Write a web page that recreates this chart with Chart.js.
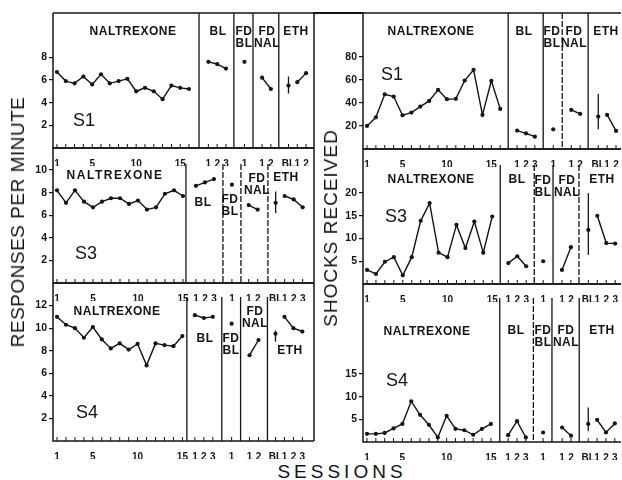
<!doctype html>
<html lang="en">
<head>
<meta charset="UTF-8">
<title>Naltrexone sessions</title>
<script src="https://cdn.jsdelivr.net/npm/chart.js@4.4.1/dist/chart.umd.min.js"></script>
<style>
  body { margin: 0; background: #fff; }
  #fig { position: relative; width: 622px; height: 480px; overflow: hidden; font-family: 'Liberation Sans', Arial, sans-serif; color: #141414; }
  #fig canvas { position: absolute; }
  .lbl { position: absolute; transform: translate(-50%, -50%); font-weight: bold; font-size: 12px; letter-spacing: 0.5px; line-height: 12px; text-align: center; white-space: nowrap; }
  .subj { position: absolute; transform: translate(-50%, -50%); font-size: 18px; white-space: nowrap; }
  .axt { position: absolute; font-size: 19px; white-space: nowrap; transform: translate(-50%, -50%) rotate(-90deg); }
  .axh { position: absolute; font-size: 19px; white-space: nowrap; transform: translate(-50%, -50%); letter-spacing: 4px; }
  .rule { position: absolute; background: #141414; }
</style>
</head>
<body>
<div id="fig"></div>
<script>
// Data-----
// responses per minute
const s1RespNal = [6.7, 5.9, 5.7, 6.3, 5.6, 6.5, 5.7, 5.9, 6.1, 5.0, 5.3, 5.0, 4.3, 5.5, 5.3, 5.2];
const s1RespBL = [7.6, 7.4, 7.0];
const s1RespFdBL = [7.6];
const s1RespFdNal = [6.2, 5.2];
const s1RespEthBL = [5.5, 4.8, 6.3]; // mean, low, high
const s1RespEth = [5.8, 6.6];

const s3RespNal = [8.2, 7.1, 8.2, 7.2, 6.7, 7.2, 7.5, 7.5, 7.0, 7.3, 6.5, 6.7, 7.9, 8.2, 7.7];
const s3RespBL = [8.6, 8.9, 9.2];
const s3RespFdBL = [8.7];
const s3RespFdNal = [6.9, 6.5];
const s3RespEthBL = [7.1, 6.2, 8.1];
const s3RespEth = [7.7, 7.4, 6.7];

const s4RespNal = [11.0, 10.3, 10.0, 9.15, 10.1, 9.0, 8.2, 8.65, 8.1, 8.6, 6.7, 8.65, 8.5, 8.4, 9.3];
const s4RespBL = [11.15, 10.9, 11.0];
const s4RespFdBL = [10.4];
const s4RespFdNal = [7.6, 8.95];
const s4RespEthBL = [9.5, 8.8, 9.8];
const s4RespEth = [11.0, 10.0, 9.7];

// shocks received
const s1ShockNal = [20, 27.5, 47.5, 45.5, 29.3, 31.6, 36.8, 41.7, 51.3, 43.2, 43.5, 59.4, 68.7, 29.6, 59.1, 34.8];
const s1ShockBL = [16, 13.6, 10.7];
const s1ShockFdBL = [17.1];
const s1ShockFdNal = [33.9, 30.4];
const s1ShockEthBL = [28.1, 17.1, 47.8];
const s1ShockEth = [29.6, 15.7];

const s3ShockNal = [3.1, 2.2, 4.9, 5.9, 1.9, 5.9, 13.9, 17.8, 6.9, 5.9, 13, 7.9, 13.75, 6.9, 14.85];
const s3ShockBL = [4.6, 6.1, 3.9];
const s3ShockFdBL = [5.0];
const s3ShockFdNal = [3.1, 8.1];
const s3ShockEthBL = [11.9, 6.4, 20];
const s3ShockEth = [15, 9, 8.9];

const s4ShockNal = [1.8, 1.8, 2, 3, 4, 9, 6, 3.8, 1, 5.8, 2.9, 2.6, 1.6, 2.9, 4];
const s4ShockBL = [1.5, 4.6, 1.0];
const s4ShockFdBL = [2.1];
const s4ShockFdNal = [3.2, 1.4];
const s4ShockEthBL = [4.0, 2.4, 7.6];
const s4ShockEth = [4.9, 2.1, 4.1];

// tick labels
const nalTickLabels = [1, 5, 10, 15];
const blTickLabels = ['1', '2', '3'];
const fdBlTickLabels = ['1'];
const fdNalTickLabels = ['1', '2'];
const respTicksS1 = [2, 4, 6, 8];
const respTicksS3 = [2, 4, 6, 8, 10];
const respTicksS4 = [2, 4, 6, 8, 10, 12];
const shockTicksS1 = [20, 40, 60, 80];
const shockTicksS3 = [5, 10, 15, 20];
const shockTicksS4 = [5, 10, 15];
// Data-----

const INK = '#141414';
const TICKFONT = "'Liberation Sans Narrow', 'Liberation Sans', Arial, sans-serif";
const fig = document.getElementById('fig');

// Layout-----
const panels = [
  { box: [53, 13, 314, 148], xr: [0.55, 30.2], ymax: 11.9, yticks: respTicksS1,
    d: [s1RespNal, s1RespBL, s1RespFdBL, s1RespFdNal, s1RespEthBL, s1RespEth],
    starts: [18.2, 22.3, 24.3, 27.3], dividers: [17.14, 21.1, 23.27, 26.2], dash: [0, 0, 0, 0], divTop: 0, right: true,
    labels: [['NALTREXONE', 133, 31], ['BL', 218, 31], ['FD<br>BL', 244, 37], ['FD<br>NAL', 267, 37], ['ETH', 296, 31]],
    subj: ['S1', 84, 120] },
  { box: [53, 148, 314, 283], xr: [0.556, 29.56], ymax: 11.95, yticks: respTicksS3,
    d: [s3RespNal, s3RespBL, s3RespFdBL, s3RespFdNal, s3RespEthBL, s3RespEth],
    starts: [16.44, 20.44, 22.3, 25.3], dividers: [15.33, 19.44, 21.44, 24.44], dash: [0, 1, 1, 1], divTop: 16, right: true,
    labels: [['NALTREXONE', 115, 175, 1.5], ['BL', 203, 202], ['FD<br>BL', 230, 205], ['FD<br>NAL', 257, 184], ['ETH', 286, 177]],
    subj: ['S3', 86, 253] },
  { box: [53, 283, 314, 441], xr: [0.55, 29.7], ymax: 14.0, yticks: respTicksS4,
    d: [s4RespNal, s4RespBL, s4RespFdBL, s4RespFdNal, s4RespEthBL, s4RespEth],
    starts: [16.4, 20.5, 22.5, 25.4], dividers: [15.5, 19.4, 21.5, 24.5], dash: [0, 0, 0, 0], divTop: 14, right: true,
    labels: [['NALTREXONE', 117, 311], ['BL', 205, 338], ['FD<br>BL', 231, 344], ['FD<br>NAL', 255, 317], ['ETH', 290, 350]],
    subj: ['S4', 87, 412] },
  { box: [363, 13, 621, 148.5], xr: [0.55, 29.6], ymax: 118, yticks: shockTicksS1,
    d: [s1ShockNal, s1ShockBL, s1ShockFdBL, s1ShockFdNal, s1ShockEthBL, s1ShockEth],
    starts: [17.9, 21.97, 24.0, 27.04], dividers: [16.9, 20.84, 22.98, 25.9], dash: [0, 0, 1, 0], divTop: 0, right: false,
    labels: [['NALTREXONE', 431, 31], ['BL', 524, 31], ['FD<br>BL', 552, 37], ['FD<br>NAL', 574, 37], ['ETH', 606, 31]],
    subj: ['S1', 392, 74] },
  { box: [363, 148.5, 621, 283.5], xr: [0.55, 29.4], ymax: 29.7, yticks: shockTicksS3,
    d: [s3ShockNal, s3ShockBL, s3ShockFdBL, s3ShockFdNal, s3ShockEthBL, s3ShockEth],
    starts: [16.8, 20.7, 22.8, 25.75], dividers: [15.9, 19.7, 21.8, 24.7], dash: [0, 1, 0, 1], divTop: 16, right: false,
    labels: [['NALTREXONE', 431, 179], ['BL', 517, 179], ['FD<br>BL', 543, 186], ['FD<br>NAL', 567, 186], ['ETH', 602, 179]],
    subj: ['S3', 396, 216] },
  { box: [363, 283.5, 621, 441], xr: [0.55, 29.7], ymax: 34.9, yticks: shockTicksS4,
    d: [s4ShockNal, s4ShockBL, s4ShockFdBL, s4ShockFdNal, s4ShockEthBL, s4ShockEth],
    starts: [16.95, 20.9, 23.05, 26.0], dividers: [16.0, 19.8, 21.9, 24.98], dash: [0, 1, 0, 0], divTop: 14, right: false,
    labels: [['NALTREXONE', 427, 331], ['BL', 516, 330], ['FD<br>BL', 543, 336], ['FD<br>NAL', 566, 336], ['ETH', 602, 330]],
    subj: ['S4', 397, 380] }
];
// Layout-----

function series(x0, ys) {
  return {
    data: ys.map((v, i) => ({ x: x0 + i, y: v })),
    borderColor: INK, backgroundColor: INK, borderWidth: 1.4,
    pointRadius: 2.1, pointBorderWidth: 0, pointHoverRadius: 0
  };
}

function buildPanel(p) {
  const padL = 34, padR = 4, padT = 10, padB = 18;
  const [nal, bl, fdbl, fdnal, ethBL, eth] = p.d;
  const [sBL, sFdBL, sFdNal, sEth] = p.starts;
  const w = Math.round(p.box[2] - p.box[0] + padL + padR);
  const h = Math.round(p.box[3] - p.box[1] + padT + padB);
  const cv = document.createElement('canvas');
  cv.width = w; cv.height = h;
  cv.style.width = w + 'px'; cv.style.height = h + 'px';
  cv.style.left = (p.box[0] - padL) + 'px';
  cv.style.top = (p.box[1] - padT) + 'px';
  fig.appendChild(cv);

  const ethLabels = ['BL'].concat(eth.map((v, i) => String(i + 1)));
  // x tick positions + labels
  const tickPos = [], tickTxt = [];
  nalTickLabels.forEach(n => { tickPos.push(n); tickTxt.push(String(n)); });
  blTickLabels.forEach((t, i) => { tickPos.push(sBL + i); tickTxt.push(t); });
  fdBlTickLabels.forEach((t, i) => { tickPos.push(sFdBL + i); tickTxt.push(t); });
  fdNalTickLabels.forEach((t, i) => { tickPos.push(sFdNal + i); tickTxt.push(t); });
  ethLabels.forEach((t, i) => { tickPos.push(sEth + i); tickTxt.push(t); });
  // every session gets an inside tick mark
  const sessions = nal.map((v, i) => 1 + i)
    .concat(bl.map((v, i) => sBL + i), fdbl.map((v, i) => sFdBL + i),
            fdnal.map((v, i) => sFdNal + i), ethLabels.map((v, i) => sEth + i));

  const frame = {
    id: 'frame',
    afterDraw(chart) {
      const { ctx, chartArea: a, scales: { x } } = chart;
      ctx.save();
      ctx.strokeStyle = INK;
      ctx.lineWidth = 1.5;
      ctx.beginPath();
      ctx.moveTo(a.left, a.top); ctx.lineTo(a.right, a.top);
      ctx.moveTo(a.left, a.top); ctx.lineTo(a.left, a.bottom); ctx.lineTo(a.right, a.bottom);
      if (p.right) { ctx.moveTo(a.right, a.top); ctx.lineTo(a.right, a.bottom); }
      ctx.stroke();
      ctx.lineWidth = 1.3;
      p.dividers.forEach((d, i) => {
        const px = x.getPixelForValue(d);
        ctx.setLineDash(p.dash[i] ? [6, 2] : []);
        ctx.beginPath();
        ctx.moveTo(px, a.top + p.divTop); ctx.lineTo(px, a.bottom);
        ctx.stroke();
      });
      ctx.setLineDash([]);
      ctx.lineWidth = 1;
      ctx.beginPath();
      sessions.forEach(v => {
        const px = x.getPixelForValue(v);
        ctx.moveTo(px, a.bottom); ctx.lineTo(px, a.bottom - 4);
      });
      ctx.stroke();
      ctx.restore();
    }
  };

  const bar = {
    data: [{ x: sEth, y: ethBL[1] }, { x: sEth, y: ethBL[2] }],
    borderColor: INK, borderWidth: 1.3, pointRadius: 0
  };

  new Chart(cv, {
    type: 'line',
    data: {
      datasets: [
        series(1, nal), series(sBL, bl), series(sFdBL, fdbl), series(sFdNal, fdnal),
        bar, series(sEth, [ethBL[0]]), series(sEth + 1, eth)
      ]
    },
    options: {
      responsive: false,
      animation: false,
      events: [],
      layout: { padding: { top: padT, right: padR, left: 0, bottom: 0 } },
      plugins: { legend: { display: false }, tooltip: { enabled: false } },
      scales: {
        x: {
          type: 'linear', min: p.xr[0], max: p.xr[1],
          afterFit(s) { s.height = padB; },
          afterBuildTicks(s) { s.ticks = tickPos.map(v => ({ value: v })); },
          grid: { display: false },
          border: { display: false },
          ticks: {
            autoSkip: false, maxRotation: 0, padding: 2, color: INK,
            font: { family: TICKFONT, size: 10, weight: 'bold' },
            callback: (v, i) => tickTxt[i]
          }
        },
        y: {
          type: 'linear', min: 0, max: p.ymax,
          afterFit(s) { s.width = padL; },
          afterBuildTicks(s) { s.ticks = p.yticks.map(v => ({ value: v })); },
          grid: { drawOnChartArea: false, tickLength: 4, color: INK, lineWidth: 1.2 },
          border: { display: false },
          ticks: {
            padding: 2, color: INK,
            font: { family: TICKFONT, size: 10.5, weight: 'bold' }
          }
        }
      }
    },
    plugins: [frame]
  });

  p.labels.forEach(l => {
    const el = document.createElement('div');
    el.className = 'lbl';
    el.innerHTML = l[0];
    el.style.left = l[1] + 'px'; el.style.top = l[2] + 'px';
    if (l[3]) el.style.letterSpacing = l[3] + 'px';
    fig.appendChild(el);
  });
  const s = document.createElement('div');
  s.className = 'subj';
  s.textContent = p.subj[0];
  s.style.left = p.subj[1] + 'px'; s.style.top = p.subj[2] + 'px';
  fig.appendChild(s);
}

panels.forEach(buildPanel);

// top rule across the column gap
const rule = document.createElement('div');
rule.className = 'rule';
rule.style.cssText = 'left:313px;top:12px;width:51px;height:1.5px;';
fig.appendChild(rule);

[['RESPONSES PER MINUTE', 18, 222, 'axt', '0.5px'],
 ['SHOCKS RECEIVED', 331, 228, 'axt', '1px'],
 ['SESSIONS', 342, 472, 'axh', '4px']].forEach(t => {
  const el = document.createElement('div');
  el.className = t[3];
  el.textContent = t[0];
  el.style.left = t[1] + 'px'; el.style.top = t[2] + 'px';
  el.style.letterSpacing = t[4];
  fig.appendChild(el);
});
</script>
</body>
</html>
